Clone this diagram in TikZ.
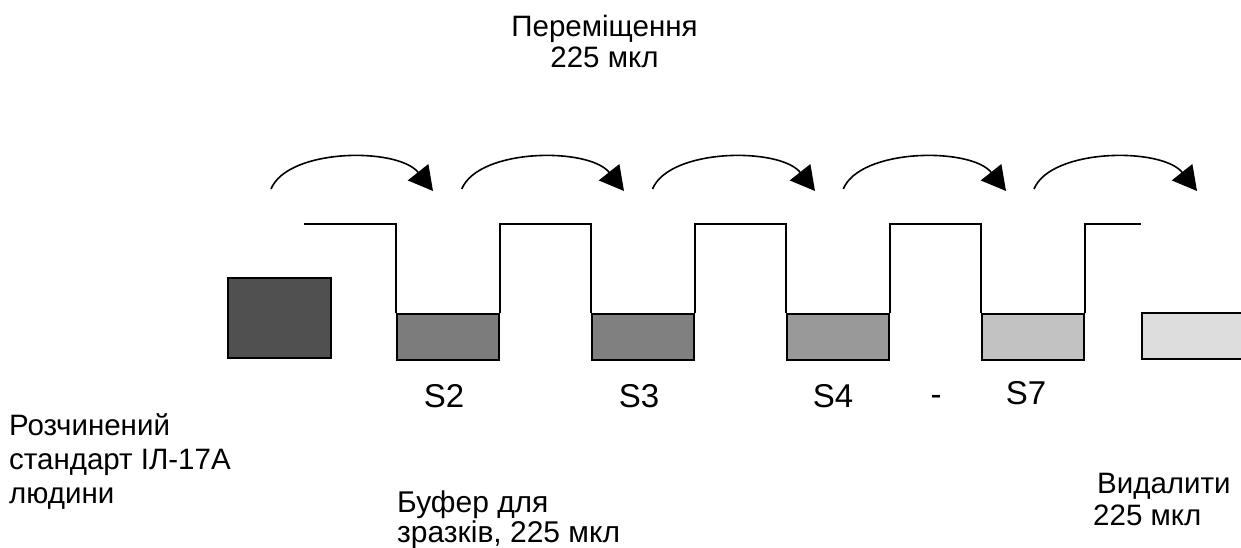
\documentclass[tikz,border=0pt]{standalone}
\usepackage{fontspec}
\setmainfont{Liberation Sans}
\usetikzlibrary{arrows.meta}

\definecolor{stdgray}{HTML}{505050}
\definecolor{graytwo}{HTML}{7C7C7C}
\definecolor{graythree}{HTML}{808080}
\definecolor{grayfour}{HTML}{999999}
\definecolor{grayseven}{HTML}{C2C2C2}
\definecolor{graywaste}{HTML}{DDDDDD}

\begin{document}
\begin{tikzpicture}[x=1pt, y=-1pt,
  tray/.style={draw=black, line width=2.2pt, inner sep=0pt,
    minimum width=102pt, minimum height=46pt},
  wave/.style={draw=black, line width=2pt, line join=miter},
  hop/.style={draw=black, line width=1.6pt,
    -{Triangle[length=24pt, width=26pt]}},
  txt/.style={inner sep=0pt, font=\fontsize{29.5pt}{34pt}\selectfont},
  wlbl/.style={inner sep=0pt, font=\fontsize{33pt}{38pt}\selectfont, anchor=base}]
\useasboundingbox (0,0) rectangle (1241,548);

% standard sample
\node[draw=black, line width=2.2pt, fill=stdgray, inner sep=0pt,
  minimum width=103pt, minimum height=80pt] (std) at (279.5,318) {};

% wells
\node[tray, fill=graytwo]   (s2) at (448,337) {};
\node[tray, fill=graythree] (s3) at (643,337) {};
\node[tray, fill=grayfour]  (s4) at (838,337) {};
\node[tray, fill=grayseven] (s7) at (1033,337) {};
\begin{scope}
  \clip (0,0) rectangle (1241,548);
  \node[tray, fill=graywaste, minimum width=106pt] (waste) at (1195,336) {};
\end{scope}

% plate profile
\coordinate (top) at (304,224);
\coordinate (topend) at (1141,224);
\draw[wave] (top) -| (s2.north west)
  (s2.north east) -- (s2.north east |- top) -| (s3.north west)
  (s3.north east) -- (s3.north east |- top) -| (s4.north west)
  (s4.north east) -- (s4.north east |- top) -| (s7.north west)
  (s7.north east) -- (s7.north east |- top) -- (topend);

% transfer arrows
\foreach \i in {0,...,4} {
  \coordinate (a\i) at ({271+190.75*\i},189);
  \coordinate (b\i) at ({433+191*\i},191);
  \draw[hop] (a\i) .. controls +(17,-41) and +(-35,-44) .. (b\i);
}

% labels
\node[txt, anchor=north, align=center,
  font=\fontsize{29.5pt}{31pt}\selectfont] (move) at (604.5,15)
  {Переміщення\\225 мкл};
\node[wlbl] (l2) at (444,407) {S2};
\node[wlbl] (l3) at (639,407) {S3};
\node[wlbl] (l4) at (833,407) {S4};
\node[wlbl] (ldash) at (936,405) {-};
\node[wlbl] (l7) at (1026,404) {S7};
\node[txt, anchor=north west, align=left] (stdtxt) at (9,413)
  {Розчинений\\стандарт ІЛ-17А\\людини};
\node[txt, anchor=north west, align=left,
  font=\fontsize{30pt}{30pt}\selectfont] (buf) at (397,491)
  {Буфер для\\зразків, 225 мкл};
\node[txt, anchor=north west, align=left,
  font=\fontsize{29.5pt}{32pt}\selectfont] (del) at (1093,473)
  {\hspace{4pt}Видалити\\225 мкл};
\end{tikzpicture}
\end{document}
